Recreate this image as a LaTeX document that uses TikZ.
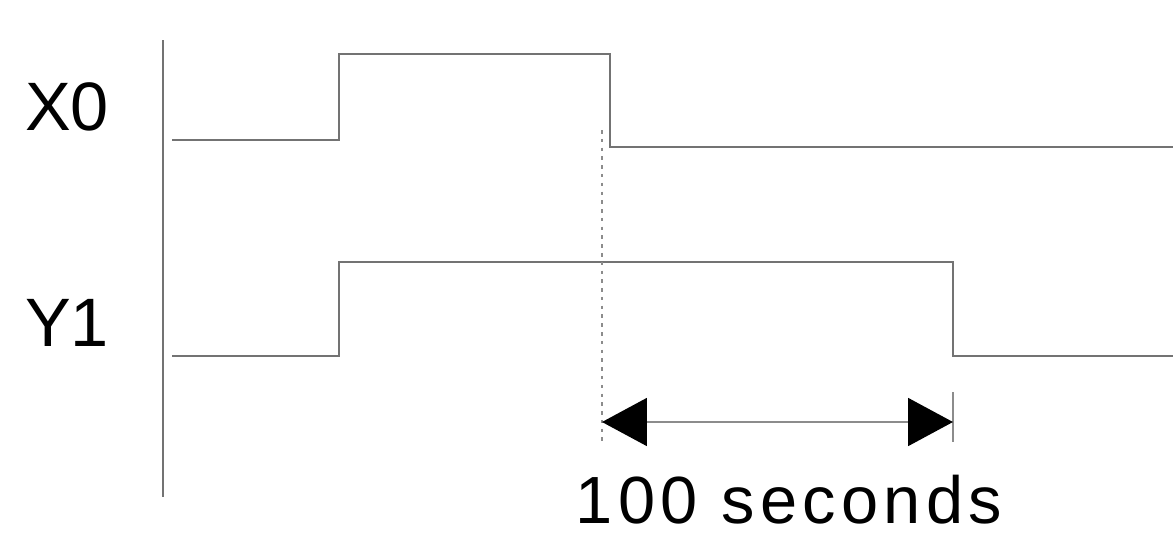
\documentclass[tikz,border=0pt]{standalone}
\usepackage{fontspec}
\setmainfont{Liberation Sans}
\usetikzlibrary{arrows.meta}
\tikzset{
  wave/.style={draw=black!55, line width=1.1pt},
  siglabel/.style={font=\fontsize{39}{40}\selectfont, inner sep=0pt}
}
\begin{document}
\begin{tikzpicture}[x=0.02cm, y=-0.02cm]
  \useasboundingbox (0,0) rectangle (1173,535);

  % time axis
  \coordinate (T0) at (163,40);
  \coordinate (T1) at (163,497);
  \draw[wave] (T0) -- (T1);

  % X0
  \coordinate (xa) at (172,140);
  \coordinate (xb) at (339,140);
  \coordinate (xc) at (339,54);
  \coordinate (xd) at (610,54);
  \coordinate (xe) at (610,147);
  \coordinate (xf) at (1173,147);
  \draw[wave] (xa) -- (xb) -- (xc) -- (xd) -- (xe) -- (xf);

  % Y1
  \coordinate (ya) at (172,356);
  \coordinate (yb) at (339,356);
  \coordinate (yc) at (339,262);
  \coordinate (yd) at (953,262);
  \coordinate (ye) at (953,356);
  \coordinate (yf) at (1173,356);
  \draw[wave] (ya) -- (yb) -- (yc) -- (yd) -- (ye) -- (yf);

  \node[siglabel] (X0) at (67,107) {X0};
  \node[siglabel] (Y1) at (67,323) {Y1};

  % delay
  \coordinate (d0) at (602,130);
  \coordinate (d1) at (602,442);
  \coordinate (e0) at (953,392);
  \coordinate (e1) at (953,442);
  \draw[black!45, line width=0.9pt, dash pattern=on 2pt off 3pt] (d0) -- (d1);
  \draw[black!45, line width=0.9pt] (e0) -- (e1);
  \coordinate (L) at (602,422);
  \coordinate (R) at (953,422);
  \draw[black!45, line width=1.1pt,
        {Triangle[length=0.9cm, width=0.96cm, color=black]}-{Triangle[length=0.9cm, width=0.96cm, color=black]}]
        (L) -- (R);
  \node[siglabel, font=\fontsize{38}{40}\selectfont\addfontfeature{LetterSpace=8}] (delay) at (789,500) {100 seconds};
\end{tikzpicture}
\end{document}
